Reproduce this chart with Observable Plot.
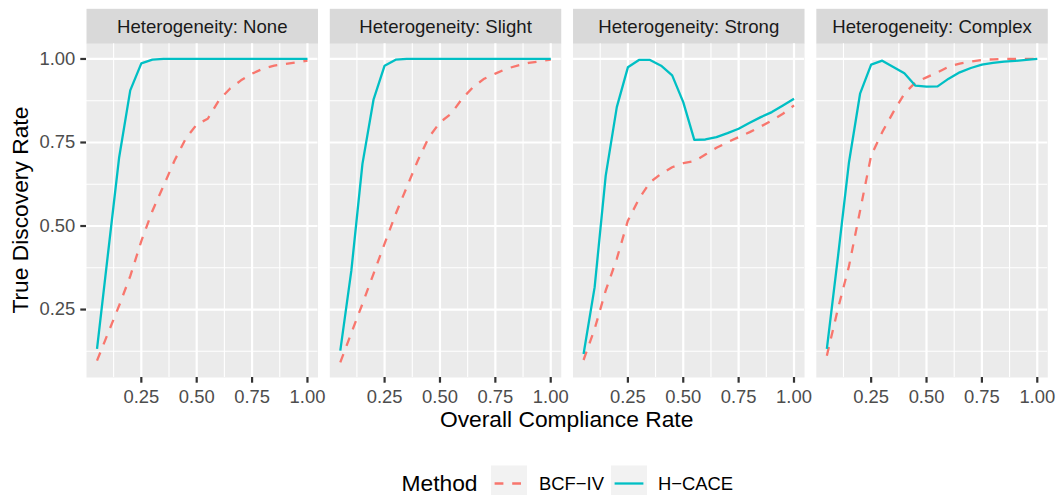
<!DOCTYPE html>
<html>
<head>
<meta charset="utf-8">
<script src="https://cdn.jsdelivr.net/npm/d3@7"></script>
<script src="https://cdn.jsdelivr.net/npm/@observablehq/plot@0.6"></script>
<style>
  html, body { margin: 0; padding: 0; background: #ffffff; }
  #chart { width: 1057px; height: 495px; overflow: hidden; }
  #chart svg { display: block; }
</style>
</head>
<body>
<div id="chart"></div>
<script>
// Facet panels and x positions (overall compliance rate)
const panels = ["Heterogeneity: None", "Heterogeneity: Slight", "Heterogeneity: Strong", "Heterogeneity: Complex"];
const compliance = [0.05, 0.10, 0.15, 0.20, 0.25, 0.30, 0.35, 0.40, 0.45, 0.50,
                    0.55, 0.60, 0.65, 0.70, 0.75, 0.80, 0.85, 0.90, 0.95, 1.00];
const methods = ["BCF\u2212IV", "H\u2212CACE"];

// True discovery rate, BCF-IV
const bcfNone    = [0.097, 0.180, 0.262, 0.350, 0.455, 0.545, 0.620, 0.696, 0.761, 0.804, 0.821, 0.876, 0.911, 0.936, 0.956, 0.971, 0.980, 0.985, 0.990, 0.995];
const bcfSlight  = [0.092, 0.180, 0.267, 0.357, 0.447, 0.536, 0.616, 0.696, 0.766, 0.810, 0.836, 0.881, 0.916, 0.941, 0.956, 0.971, 0.980, 0.988, 0.993, 0.998];
const bcfStrong  = [0.099, 0.192, 0.307, 0.402, 0.516, 0.581, 0.631, 0.656, 0.676, 0.688, 0.694, 0.714, 0.734, 0.751, 0.766, 0.781, 0.798, 0.816, 0.836, 0.861];
const bcfComplex = [0.112, 0.252, 0.380, 0.546, 0.711, 0.781, 0.841, 0.896, 0.930, 0.945, 0.960, 0.977, 0.986, 0.992, 0.997, 0.999, 1.000, 1.000, 1.000, 1.000];

// True discovery rate, H-CACE
const hcaceNone    = [0.132, 0.420, 0.706, 0.906, 0.987, 0.998, 1.000, 1.000, 1.000, 1.000, 1.000, 1.000, 1.000, 1.000, 1.000, 1.000, 1.000, 1.000, 1.000, 1.000];
const hcaceSlight  = [0.127, 0.367, 0.686, 0.878, 0.980, 0.998, 1.000, 1.000, 1.000, 1.000, 1.000, 1.000, 1.000, 1.000, 1.000, 1.000, 1.000, 1.000, 1.000, 1.000];
const hcaceStrong  = [0.117, 0.317, 0.651, 0.856, 0.975, 0.997, 0.997, 0.980, 0.951, 0.871, 0.758, 0.759, 0.766, 0.778, 0.791, 0.809, 0.826, 0.841, 0.861, 0.881];
const hcaceComplex = [0.132, 0.407, 0.691, 0.896, 0.983, 0.995, 0.976, 0.957, 0.920, 0.917, 0.918, 0.941, 0.960, 0.973, 0.983, 0.988, 0.992, 0.994, 0.997, 1.000];

// Axis breaks
const xTicks = [0.25, 0.50, 0.75, 1.00];
const xMinor = [0.125, 0.375, 0.625, 0.875];
const yTicks = [0.25, 0.50, 0.75, 1.00];
const yMinor = [0.125, 0.375, 0.625, 0.875];

const bcfSeries = [bcfNone, bcfSlight, bcfStrong, bcfComplex];
const hcaceSeries = [hcaceNone, hcaceSlight, hcaceStrong, hcaceComplex];

const rows = [];
panels.forEach((panel, i) => {
  compliance.forEach((c, j) => {
    rows.push({panel, method: methods[0], compliance: c, rate: bcfSeries[i][j]});
    rows.push({panel, method: methods[1], compliance: c, rate: hcaceSeries[i][j]});
  });
});

// ggplot-style 5% expansion of the continuous scales
function expand([lo, hi]) { const p = (hi - lo) * 0.05; return [lo - p, hi + p]; }
const xDomain = expand(d3.extent(rows, d => d.compliance));
const yDomain = expand(d3.extent(rows, d => d.rate));

const FONT = "'Liberation Sans', Arial, Helvetica, sans-serif";
const colors = {[methods[0]]: "#F8766D", [methods[1]]: "#00BFC4"};
const W = 1057, H = 440;
const mTop = 43.3, mBottom = 63, mLeft = 86, mRight = 9.7;
const panelH = H - mTop - mBottom;
const stripH = 35;
const lw = 2.3;

const chart = Plot.plot({
  width: W,
  height: H,
  marginTop: mTop,
  marginBottom: mBottom,
  marginLeft: mLeft,
  marginRight: mRight,
  style: {fontFamily: FONT, background: "#ffffff", overflow: "visible"},
  fx: {domain: panels, paddingInner: 0.0485, paddingOuter: 0, round: false, axis: null, label: null},
  x: {domain: xDomain},
  y: {domain: yDomain},
  marks: [
    // strip backgrounds above each panel
    Plot.frame({fill: "#D9D9D9", stroke: "none", insetTop: -stripH, insetBottom: panelH}),
    // panel backgrounds
    Plot.frame({fill: "#EBEBEB", stroke: "none"}),
    // grid
    Plot.ruleX(xMinor, {stroke: "#ffffff", strokeWidth: 1.1}),
    Plot.ruleY(yMinor, {stroke: "#ffffff", strokeWidth: 1.1}),
    Plot.ruleX(xTicks, {stroke: "#ffffff", strokeWidth: 2.2}),
    Plot.ruleY(yTicks, {stroke: "#ffffff", strokeWidth: 2.2}),
    // series
    Plot.line(rows.filter(d => d.method === methods[0]), {
      fx: "panel", x: "compliance", y: "rate",
      stroke: colors[methods[0]], strokeWidth: lw,
      strokeDasharray: "8.8,8.8", strokeLinecap: "butt", strokeLinejoin: "round"
    }),
    Plot.line(rows.filter(d => d.method === methods[1]), {
      fx: "panel", x: "compliance", y: "rate",
      stroke: colors[methods[1]], strokeWidth: lw,
      strokeLinecap: "butt", strokeLinejoin: "round"
    }),
    // strip labels
    Plot.text(panels, {
      fx: d => d, text: d => d, frameAnchor: "top", lineAnchor: "middle", dy: -16.9,
      fontSize: 18.6, fill: "#1A1A1A"
    }),
    // axes
    Plot.axisX({
      ticks: xTicks, tickFormat: d => d.toFixed(2), tickSize: 5.7, tickPadding: 6.3,
      fontSize: 18.4, fill: "#4D4D4D", stroke: "#333333", strokeWidth: 2.2, label: null
    }),
    Plot.axisY({
      ticks: yTicks, tickFormat: d => d.toFixed(2), tickSize: 5.7, tickPadding: 5.6,
      fontSize: 18.4, fill: "#4D4D4D", stroke: "#333333", strokeWidth: 2.2, label: null
    })
  ]
});

// axis titles
const svg = d3.select(chart);
svg.append("text")
  .attr("x", (mLeft + (W - mRight)) / 2)
  .attr("y", 418.8)
  .attr("dy", "0.35em")
  .attr("text-anchor", "middle")
  .attr("font-family", FONT)
  .attr("font-size", 22.8)
  .attr("fill", "#000000")
  .text("Overall Compliance Rate");
svg.append("text")
  .attr("transform", `translate(20,${mTop + panelH / 2}) rotate(-90)`)
  .attr("dy", "0.35em")
  .attr("text-anchor", "middle")
  .attr("font-family", FONT)
  .attr("font-size", 22.8)
  .attr("fill", "#000000")
  .text("True Discovery Rate");

document.getElementById("chart").appendChild(chart);

// legend below the plot
const legend = d3.select("#chart").append("svg")
  .attr("width", W)
  .attr("height", 55)
  .style("display", "block")
  .style("font-family", FONT);
const cy = 43.5;
legend.append("text")
  .attr("x", 401.5).attr("y", cy).attr("dy", "0.35em")
  .attr("font-size", 22.8).attr("fill", "#000000")
  .text("Method");
const keys = [
  {method: methods[0], x: 491, labelX: 539, dash: "8.8,8.8"},
  {method: methods[1], x: 611, labelX: 658, dash: null}
];
keys.forEach(k => {
  legend.append("rect")
    .attr("x", k.x).attr("y", cy - 18).attr("width", 36).attr("height", 36)
    .attr("fill", "#F2F2F2");
  const ln = legend.append("line")
    .attr("x1", k.x + 3.6).attr("x2", k.x + 32.4)
    .attr("y1", cy).attr("y2", cy)
    .attr("stroke", colors[k.method]).attr("stroke-width", lw)
    .attr("stroke-linecap", "butt");
  if (k.dash) ln.attr("stroke-dasharray", k.dash);
  legend.append("text")
    .attr("x", k.labelX).attr("y", cy).attr("dy", "0.35em")
    .attr("font-size", 18.4).attr("fill", "#000000")
    .text(k.method);
});
</script>
</body>
</html>
